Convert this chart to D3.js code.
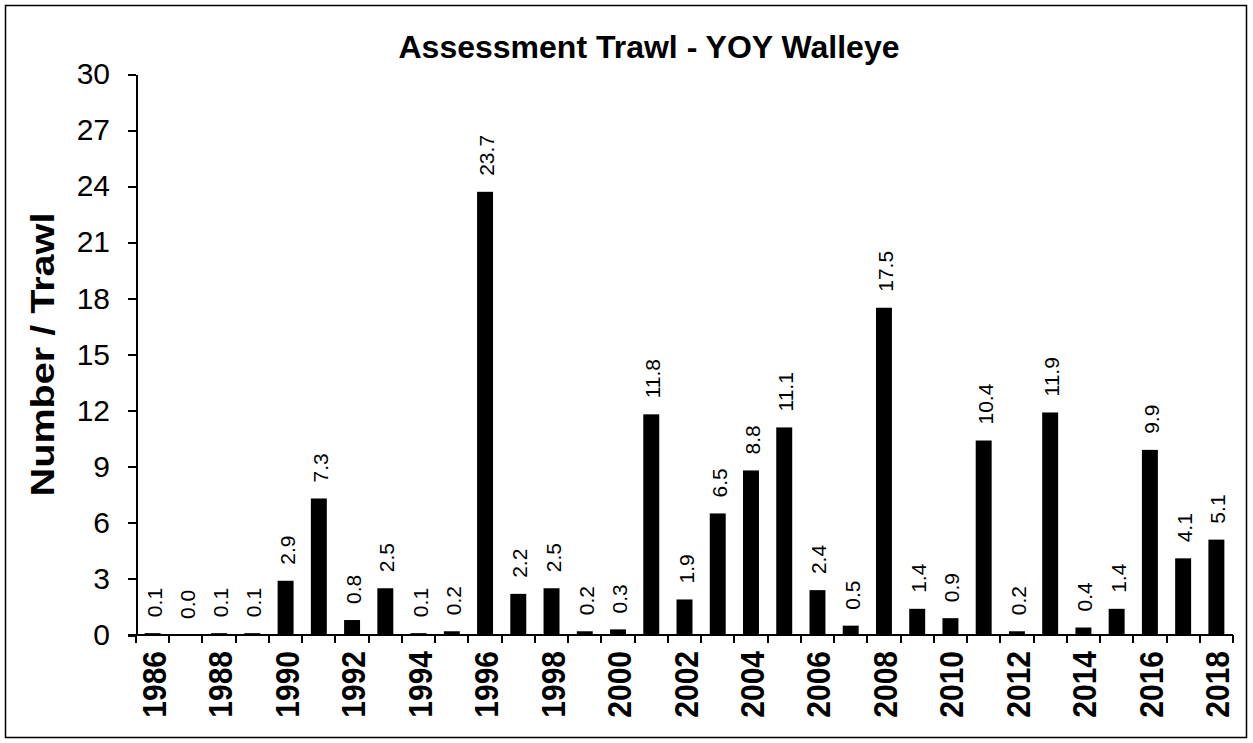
<!DOCTYPE html>
<meta charset="utf-8">
<style>
    body { margin: 0; background: #fff; }
    svg { font-family: "Liberation Sans", Arial, sans-serif; }
    .axis path, .axis line { stroke: #000; stroke-width: 2px; shape-rendering: crispEdges; }
</style>
<body>
<script src="https://d3js.org/d3.v7.min.js"></script>
<script>
    const years = [1986, 1987, 1988, 1989, 1990, 1991, 1992, 1993, 1994, 1995, 1996, 1997, 1998, 1999, 2000,
        2001, 2002, 2003, 2004, 2005, 2006, 2007, 2008, 2009, 2010, 2011, 2012, 2013, 2014, 2015, 2016, 2017, 2018];
    const catch_per_trawl = [0.1, 0.0, 0.1, 0.1, 2.9, 7.3, 0.8, 2.5, 0.1, 0.2, 23.7, 2.2, 2.5, 0.2, 0.3,
        11.8, 1.9, 6.5, 8.8, 11.1, 2.4, 0.5, 17.5, 1.4, 0.9, 10.4, 0.2, 11.9, 0.4, 1.4, 9.9, 4.1, 5.1];
    const yTicks = [0, 3, 6, 9, 12, 15, 18, 21, 24, 27, 30];

    const width = 1253, height = 743;
    const margin = {top: 74, right: 20, bottom: 108, left: 136};
    const plotW = 1233 - margin.left;
    const plotH = 635 - margin.top;

    const svg = d3.select('body').append('svg')
        .attr('width', width)
        .attr('height', height);

    // chart border
    svg.append('rect')
        .attr('x', 5.5).attr('y', 5.5)
        .attr('width', 1241).attr('height', 732)
        .attr('fill', 'none')
        .attr('stroke', '#000')
        .attr('stroke-width', 1.5);

    svg.append('text')
        .attr('x', 649).attr('y', 58)
        .attr('text-anchor', 'middle')
        .style('font-size', '32px')
        .style('font-weight', 'bold')
        .text('Assessment Trawl - YOY Walleye');

    const g = svg.append('g')
        .attr('transform', 'translate(' + margin.left + ',' + margin.top + ')');

    const x = d3.scaleBand().domain(years).range([0, plotW]).paddingInner(0.52).paddingOuter(0.26);
    const xEdges = d3.scaleBand().domain(years).range([0, plotW]);
    const y = d3.scaleLinear().domain([0, 30]).range([plotH, 0]);

    // y axis
    const yAxis = g.append('g').attr('class', 'axis')
        .call(d3.axisLeft(y).tickValues(yTicks).tickSize(8).tickSizeOuter(0).tickPadding(18));
    yAxis.selectAll('text').style('font-size', '30px').attr('fill', '#000');

    // bars
    g.selectAll('.bar')
        .data(years)
        .enter().append('rect')
        .attr('class', 'bar')
        .attr('x', d => x(d))
        .attr('width', x.bandwidth())
        .attr('y', (d, i) => y(catch_per_trawl[i]))
        .attr('height', (d, i) => plotH - y(catch_per_trawl[i]))
        .attr('fill', '#000');

    // value labels
    g.selectAll('.val')
        .data(years)
        .enter().append('text')
        .attr('class', 'val')
        .attr('transform', (d, i) => 'translate(' + (x(d) + x.bandwidth() / 2 + 9) + ',' + (y(catch_per_trawl[i]) - 16) + ') rotate(-90)')
        .style('font-size', '21px')
        .text((d, i) => catch_per_trawl[i].toFixed(1));

    // x axis line and ticks at category edges
    const xg = g.append('g').attr('class', 'axis');
    xg.append('line')
        .attr('x1', -8).attr('x2', plotW)
        .attr('y1', plotH).attr('y2', plotH);
    xg.selectAll('.tk')
        .data(years.concat(['end']))
        .enter().append('line')
        .attr('class', 'tk')
        .attr('x1', d => d === 'end' ? plotW : xEdges(d))
        .attr('x2', d => d === 'end' ? plotW : xEdges(d))
        .attr('y1', plotH).attr('y2', plotH + 8);

    xg.selectAll('.yr')
        .data(years.filter(d => d % 2 === 0))
        .enter().append('text')
        .attr('class', 'yr')
        .attr('transform', d => 'translate(' + (x(d) + x.bandwidth() / 2 + 13) + ',' + (plotH + 16) + ') rotate(-90) scale(1,1.12)')
        .attr('text-anchor', 'end')
        .style('font-size', '30px')
        .style('font-weight', 'bold')
        .text(d => d);

    svg.append('text')
        .attr('transform', 'translate(54,' + (margin.top + plotH / 2) + ') rotate(-90) scale(1.2,1)')
        .attr('text-anchor', 'middle')
        .style('font-size', '33px')
        .style('font-weight', 'bold')
        .text('Number / Trawl');
</script>
</body>
